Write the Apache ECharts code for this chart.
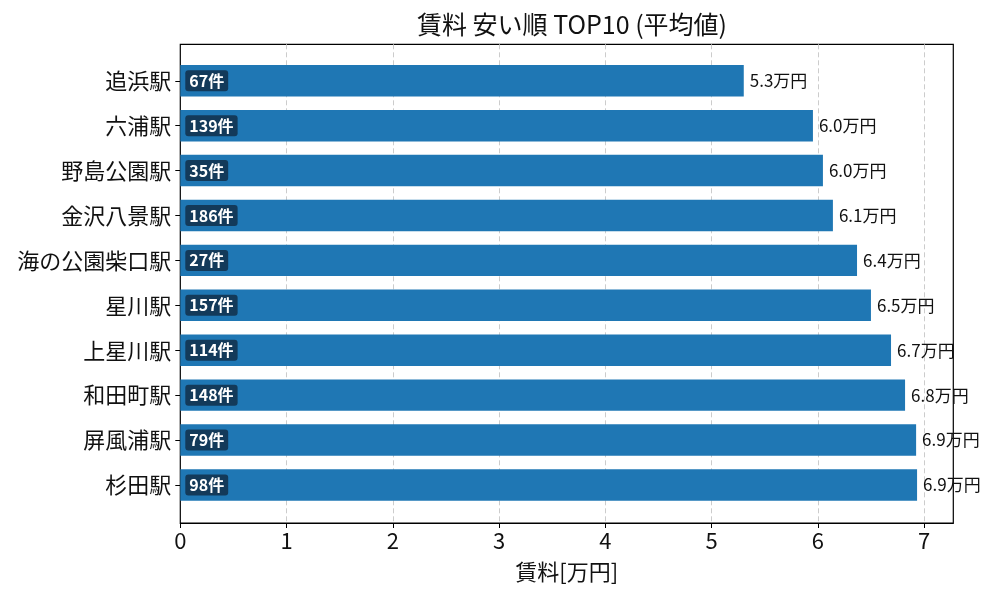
<!DOCTYPE html>
<html><head><meta charset="utf-8">
<script src="https://cdn.jsdelivr.net/npm/echarts@6/dist/echarts.min.js"></script>
<style>html,body{margin:0;padding:0;background:#fff}#c{width:1000px;height:600px}</style>
</head><body><div id="c"></div>
<script>
const stations = ['追浜駅','六浦駅','野島公園駅','金沢八景駅','海の公園柴口駅','星川駅','上星川駅','和田町駅','屏風浦駅','杉田駅'];
const rents = [5.303, 5.954, 6.048, 6.142, 6.369, 6.50, 6.689, 6.821, 6.925, 6.934];
const counts = [67, 139, 35, 186, 27, 157, 114, 148, 79, 98];
const xTicks = [0,1,2,3,4,5,6,7];

const FONT = '"Noto Sans CJK JP", "Noto Sans", sans-serif';
const XMAX = 7.275;
const chart = echarts.init(document.getElementById('c'));
chart.setOption({
  animation: false,
  textStyle: { fontFamily: FONT },
  title: {
    text: '賃料 安い順 TOP10 (平均値)', left: 567, top: 7, textAlign: 'center',
    textStyle: { fontFamily: FONT, fontSize: 25, fontWeight: 'normal', color: '#111' }
  },
  grid: [
    { left: 180.3, right: 46.7, top: 44.3, bottom: 77, show: true, borderColor: '#000', borderWidth: 1.2, backgroundColor: 'transparent' },
    { left: 180.3, right: 46.7, top: 58.3, bottom: 92.6 }
  ],
  xAxis: [
    { gridIndex: 0, type: 'value', min: 0, max: XMAX, interval: 1,
      axisLine: { show: true, lineStyle: { color: '#000', width: 1.2 } },
      axisTick: { show: true, length: 5, lineStyle: { color: '#000' } },
      axisLabel: { fontSize: 22, color: '#111', fontFamily: FONT, margin: 7,
        formatter: v => xTicks.includes(v) ? String(v) : '', showMaxLabel: false },
      splitLine: { show: true, showMinLine: false, showMaxLine: false, lineStyle: { color: '#ccc', type: [5, 3], width: 1 } },
      name: '賃料[万円]', nameLocation: 'middle', nameGap: 38,
      nameTextStyle: { fontSize: 22, color: '#111', fontFamily: FONT } },
    { gridIndex: 1, type: 'value', min: 0, max: XMAX, show: false, splitLine: { show: false } }
  ],
  yAxis: [
    { gridIndex: 0, type: 'value', min: 0, max: 1, show: false, splitLine: { show: false } },
    { gridIndex: 1, type: 'category', data: stations, inverse: true,
      axisLine: { show: false },
      axisTick: { show: true, alignWithLabel: true, length: 5, lineStyle: { color: '#000' } },
      axisLabel: { fontSize: 22, color: '#111', fontFamily: FONT, margin: 9 } }
  ],
  series: [
    { type: 'bar', xAxisIndex: 1, yAxisIndex: 1, data: rents, barWidth: '70%',
      itemStyle: { color: '#1f77b4' },
      label: { show: true, position: 'right', distance: 6, fontSize: 17, color: '#111', fontFamily: FONT,
        formatter: p => rents[p.dataIndex].toFixed(1) + '万円' } },
    { type: 'bar', xAxisIndex: 1, yAxisIndex: 1, data: rents, barWidth: '70%', barGap: '-100%',
      itemStyle: { color: 'transparent' },
      label: { show: true, position: 'insideLeft', distance: 5, fontSize: 16, fontWeight: 'bold', color: '#fff',
        fontFamily: FONT, backgroundColor: '#133a5a', borderRadius: 3, padding: [3, 4, 2, 4],
        formatter: p => counts[p.dataIndex] + '件' } }
  ]
});
</script></body></html>
